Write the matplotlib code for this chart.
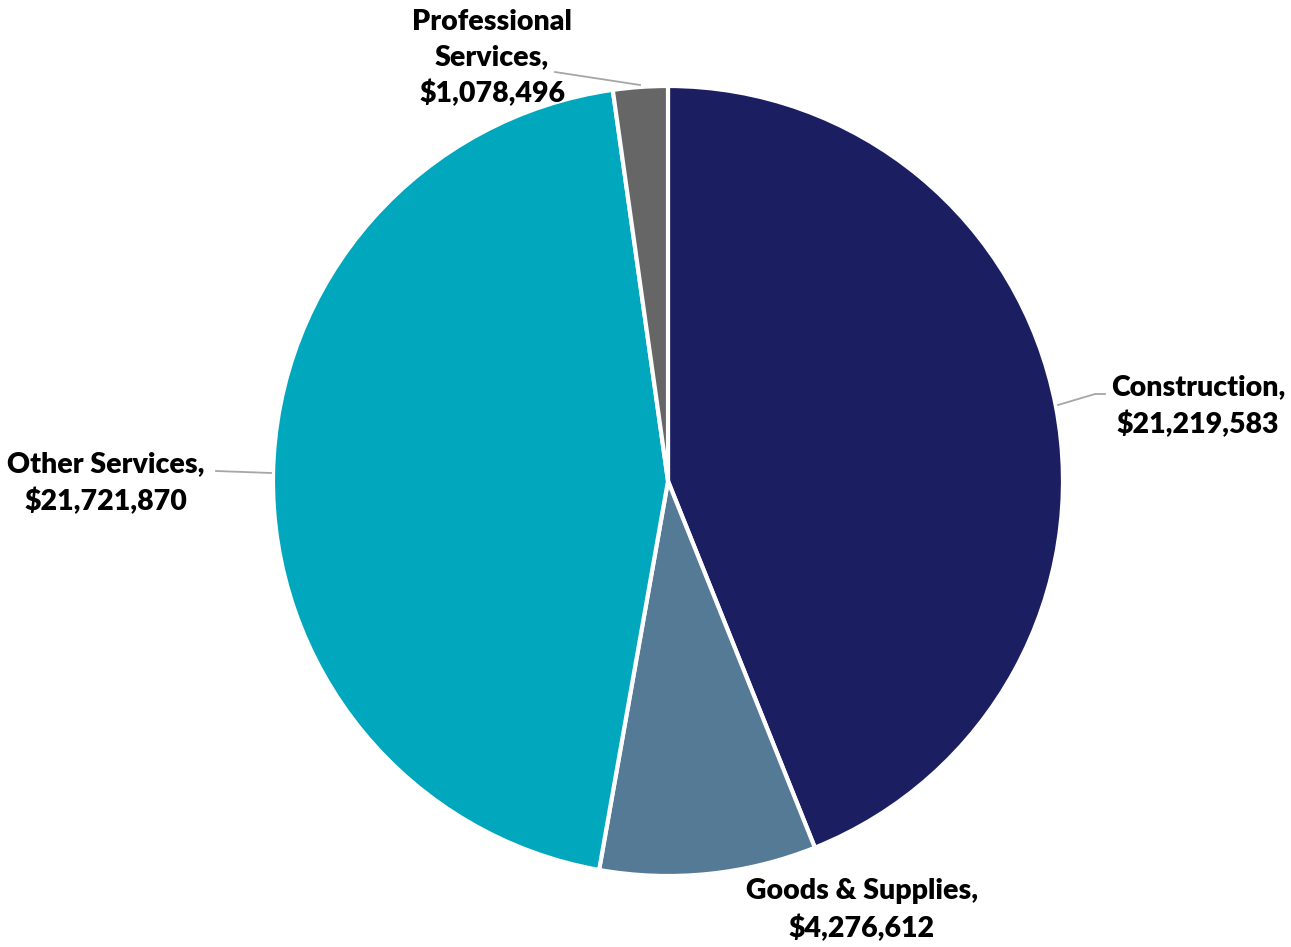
import matplotlib
matplotlib.use("Agg")
import matplotlib.pyplot as plt

categories = ["Construction", "Goods & Supplies", "Other Services", "Professional Services"]
values = [21219583, 4276612, 21721870, 1078496]
label_texts = ["Construction,\n$21,219,583", "Goods & Supplies,\n$4,276,612",
               "Other Services,\n$21,721,870", "Professional\nServices,\n$1,078,496"]
colors = ["#1B1F62", "#557A96", "#00A7BD", "#666666"]

W, H = 1291, 947
fig = plt.figure(figsize=(W / 100, H / 100), dpi=100)
ax = fig.add_axes([0, 0, 1, 1])
ax.set_xlim(0, W)
ax.set_ylim(0, H)
ax.set_aspect("equal")
ax.axis("off")

cx, cy, r = 668, H - 481, 395
ax.pie(values, colors=colors, startangle=90, counterclock=False,
       center=(cx, cy), radius=r, frame=True,
       wedgeprops=dict(edgecolor="white", linewidth=3))
ax.set_xlim(0, W)
ax.set_ylim(0, H)
ax.axis("off")

font = dict(family=["Lato", "DejaVu Sans"], fontsize=20.5, fontweight="heavy", color="black",
            ha="center", va="center", linespacing=1.45)
label_pos = [(1198, H - 406), (862, H - 910), (106, H - 483), (492, H - 58)]
for txt, (x, y) in zip(label_texts, label_pos):
    ax.text(x, y, txt, **font)

lc = "#A6A6A6"
ax.plot([1058, 1095, 1105], [H - 405, H - 394, H - 394], color=lc, lw=1.3)
ax.plot([271, 216], [H - 473, H - 471], color=lc, lw=1.3)
ax.plot([640, 555], [H - 85, H - 72], color=lc, lw=1.3)

fig.savefig("out.png", dpi=100, facecolor="white")
